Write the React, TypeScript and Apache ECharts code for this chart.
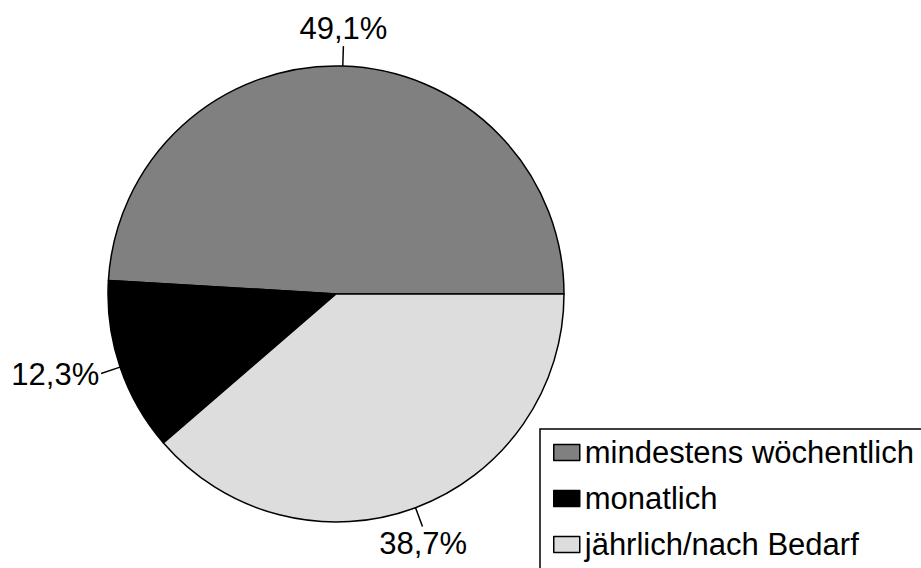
import React, { useEffect, useRef } from "react";
import * as echarts from "echarts";

const categories = ["mindestens wöchentlich", "monatlich", "jährlich/nach Bedarf"];
const values = [49.1, 12.3, 38.7];
const labels = ["49,1%", "12,3%", "38,7%"];
const colors = ["#808080", "#000000", "#dddddd"];

const FONT = "'Liberation Sans', Arial, Helvetica, sans-serif";
const CX = 336;
const CY = 294;
const R = 228;
const LINE = 20;

export default function App() {
  const ref = useRef<HTMLDivElement>(null);
  useEffect(() => {
    if (!ref.current) return;
    const chart = echarts.init(ref.current, null, { renderer: "svg" });
    const total = values.reduce((a, b) => a + b, 0);
    chart.setOption({
      animation: false,
      backgroundColor: "#ffffff",
      graphic: [
        {
          type: "rect",
          shape: { x: 540, y: 429, width: 420, height: 200 },
          style: { fill: "#ffffff", stroke: "#000000", lineWidth: 1.5 },
          z: 0,
        },
      ],
      legend: {
        orient: "vertical",
        left: 553,
        top: 437,
        padding: 0,
        itemGap: 15,
        itemWidth: 26,
        itemHeight: 16,
        icon: "rect",
        z: 10,
        data: categories,
        itemStyle: { borderColor: "#000000", borderWidth: 1.5 },
        textStyle: { fontFamily: FONT, fontSize: 31, lineHeight: 31, color: "#000000", padding: [0, 0, 0, 0] },
      },
      series: [
        {
          type: "pie",
          center: [CX, CY],
          radius: R,
          startAngle: 0,
          clockwise: false,
          avoidLabelOverlap: false,
          itemStyle: { borderColor: "#000000", borderWidth: 1.5 },
          label: {
            show: true,
            position: "outside",
            fontFamily: FONT,
            fontSize: 31,
            color: "#000000",
            formatter: (p: any) => labels[p.dataIndex],
          },
          labelLine: {
            show: true,
            length: LINE,
            length2: 0,
            lineStyle: { color: "#000000", width: 1.5 },
          },
          labelLayout: (params: any) => {
            const i = params.dataIndex;
            let start = 0;
            for (let j = 0; j < i; j++) start += values[j];
            const mid = ((start + values[i] / 2) / total) * Math.PI * 2;
            const dx = Math.cos(mid);
            const dy = -Math.sin(mid);
            const p0 = [CX + R * dx, CY + R * dy];
            const p1 = [CX + (R + LINE) * dx, CY + (R + LINE) * dy];
            const off = 2;
            let align = "center";
            let verticalAlign = "middle";
            if (Math.abs(dx) >= 0.5) align = dx > 0 ? "left" : "right";
            if (Math.abs(dy) >= 0.5) verticalAlign = dy < 0 ? "bottom" : "top";
            return {
              x: p1[0] + dx * off,
              y: p1[1] + dy * off,
              align,
              verticalAlign,
              labelLinePoints: [p0, p1, p1],
            };
          },
          emphasis: { disabled: true },
          data: categories.map((name, i) => ({
            name,
            value: values[i],
            itemStyle: { color: colors[i] },
          })),
        },
      ],
    });
    return () => chart.dispose();
  }, []);
  return (
    <div
      ref={ref}
      style={{ position: "absolute", left: 0, top: 0, width: 921, height: 568 }}
    />
  );
}
